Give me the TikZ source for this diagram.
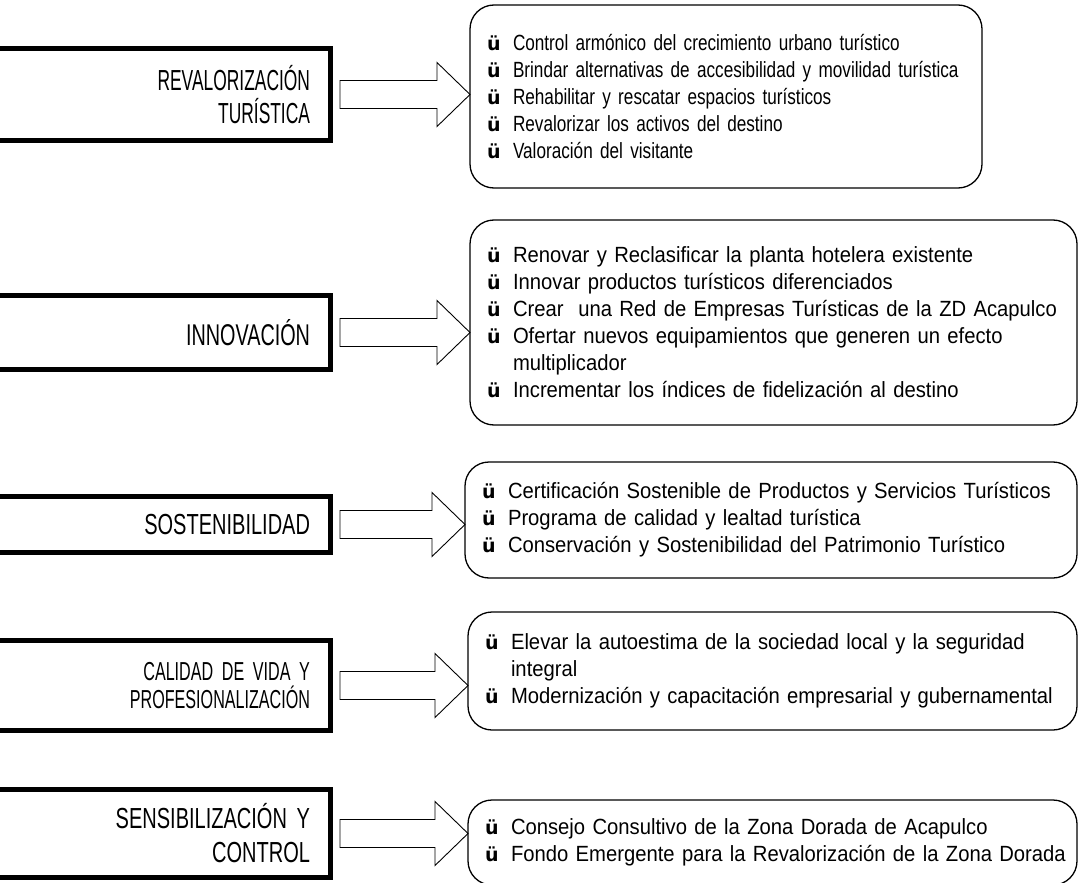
\documentclass[tikz,border=0pt]{standalone}
\usepackage{fontspec}
\setmainfont{Liberation Sans}
\newfontfamily\itemfonta{Liberation Sans}[FakeStretch=0.78]
\newfontfamily\itemfont{Liberation Sans}[FakeStretch=0.92]
\newfontfamily\titlefont{Liberation Sans}[FakeStretch=0.60]
\newfontfamily\titlefontc{Liberation Sans}[FakeStretch=0.66]
\newfontfamily\titlefontd{Liberation Sans}[FakeStretch=0.69]
\newfontfamily\titlefontb{Liberation Sans}[FakeStretch=0.62]
\newfontfamily\bulfont{DejaVu Sans}
\usetikzlibrary{calc}
\hyphenpenalty=10000
\newcommand\bul{\hspace*{9pt}\makebox[26pt][l]{\bulfont\bfseries\fontsize{19}{27}\selectfont ü}}
\newcommand\ind{\hspace*{35pt}}
\tikzset{
  lbox/.style={draw, line width=5pt, inner xsep=20.5pt, inner ysep=0pt, outer sep=0pt,
    align=right, text width=299.5pt, font=\titlefont\fontsize{29}{33}\selectfont},
  rbox/.style={draw, line width=1.3pt, rounded corners=24pt, anchor=north west,
    inner xsep=8pt, inner ysep=0pt, outer sep=0pt, align=left,
    font=\itemfont\fontsize{22}{27}\selectfont},
  blockarrow/.style={draw, line width=0.9pt, line join=miter,
    to path={let \p1=(\tikztostart), \p2=(\tikztotarget) in
      (\x1,\y1+14pt) -- (\x2-33pt,\y1+14pt) -- (\x2-33pt,\y1+32pt) -- (\x2,\y1)
      -- (\x2-33pt,\y1-32pt) -- (\x2-33pt,\y1-14pt) -- (\x1,\y1-14pt) -- cycle}}
}
\begin{document}
\begin{tikzpicture}[x=1pt,y=-1pt]
\useasboundingbox[fill=white] (0,0) rectangle (1080,883);

% left title boxes
\node[lbox, minimum height=92pt] (L1) at (160.25,94.5) {REVALORIZACIÓN\\TURÍSTICA};
\node[lbox, minimum height=74pt, font=\titlefontc\fontsize{30}{33}\selectfont] (L2) at (160.25,332.5) {INNOVACIÓN};
\node[lbox, minimum height=56pt, font=\titlefontd\fontsize{29}{33}\selectfont] (L3) at (160.25,524.5) {SOSTENIBILIDAD};
\node[lbox, minimum height=90pt, font=\titlefontb\fontsize{26}{28}\selectfont] (L4) at (160.25,685.5) {CALIDAD DE VIDA Y\\PROFESIONALIZACIÓN};
\node[lbox, minimum height=88pt, font=\titlefontd\fontsize{29}{34}\selectfont] (L5) at (160.25,833.5) {SENSIBILIZACIÓN Y\\CONTROL};

% right rounded boxes
\node[rbox, text width=496pt, minimum width=512pt, minimum height=183pt, font=\itemfonta\fontsize{22}{27}\selectfont] (R1) at (470,5) {%
\bul Control armónico del crecimiento urbano turístico\\
\bul Brindar alternativas de accesibilidad y movilidad turística\\
\bul Rehabilitar y rescatar espacios turísticos\\
\bul Revalorizar los activos del destino\\
\bul Valoración del visitante};

\node[rbox, text width=591pt, minimum width=607pt, minimum height=205pt] (R2) at (470,220) {%
\bul Renovar y Reclasificar la planta hotelera existente\\
\bul Innovar productos turísticos diferenciados\\
\bul Crear\ \ una Red de Empresas Turísticas de la ZD Acapulco\\
\bul Ofertar nuevos equipamientos que generen un efecto\\
\ind multiplicador\\
\bul Incrementar los índices de fidelización al destino};

\node[rbox, text width=596pt, minimum width=612pt, minimum height=116pt] (R3) at (465,462) {%
\bul Certificación Sostenible de Productos y Servicios Turísticos\\
\bul Programa de calidad y lealtad turística\\
\bul Conservación y Sostenibilidad del Patrimonio Turístico};

\node[rbox, text width=593pt, minimum width=609pt, minimum height=118pt] (R4) at (468,612) {%
\bul Elevar la autoestima de la sociedad local y la seguridad\\
\ind integral\\
\bul Modernización y capacitación empresarial y gubernamental};

\node[rbox, text width=593pt, minimum width=609pt, minimum height=85pt] (R5) at (468,800) {%
\bul Consejo Consultivo de la Zona Dorada de Acapulco\\
\bul Fondo Emergente para la Revalorización de la Zona Dorada};

% block arrows
\draw[blockarrow] ([xshift=9.5pt]L1.east) to (L1.east -| R1.west);
\draw[blockarrow] ([xshift=9.5pt]L2.east) to (L2.east -| R2.west);
\draw[blockarrow] ([xshift=9.5pt]L3.east) to (L3.east -| R3.west);
\draw[blockarrow] ([xshift=9.5pt]L4.east) to (L4.east -| R4.west);
\draw[blockarrow] ([xshift=9.5pt]L5.east) to (L5.east -| R5.west);
\end{tikzpicture}
\end{document}
